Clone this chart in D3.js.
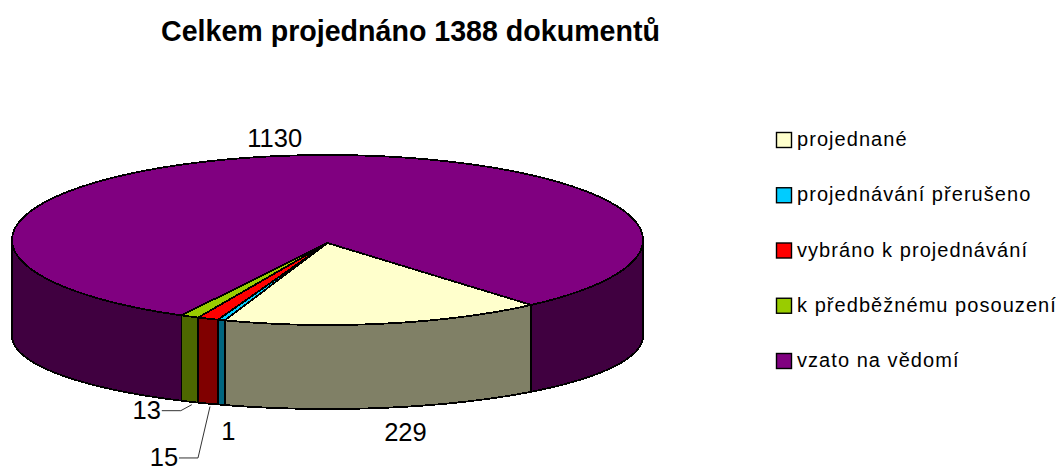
<!DOCTYPE html>
<meta charset="utf-8">
<html>
    <style>
    body { margin: 0; background: #fff; }
    svg { display: block; }
    text { font-family: "Liberation Sans", Arial, sans-serif; fill: #000; }
    .title { font-size: 28.6px; font-weight: bold; text-anchor: middle; }
    .value { font-size: 25.5px; text-anchor: middle; }
    .legend text { font-size: 20px; letter-spacing: 1.05px; }
    .face path, .wall path { stroke: #000; stroke-width: 1.8px; stroke-linejoin: round; shape-rendering: crispEdges; }
    .leader { fill: none; stroke: #333; stroke-width: 1px; }
    </style>
    <body>
        <svg width="1056" height="467"></svg>
    </body>

    <script src="https://d3js.org/d3.v7.min.js"></script>
    <script>

    var titleText = "Celkem projednáno 1388 dokumentů";
    var categories = ["projednané", "projednávání přerušeno", "vybráno k projednávání", "k předběžnému posouzení", "vzato na vědomí"];
    var values = [229, 1, 15, 13, 1130];
    var topColors = ["#ffffcc", "#00ccff", "#ff0000", "#99cc00", "#800080"];
    var sideColors = ["#808066", "#006680", "#800000", "#4d6600", "#400040"];

    var svg = d3.select("svg");

    // the pie is drawn in perspective: the lower rim is flatter than the top one
    var cx = 327.5, rx = 315.5;
    var x = d3.scaleLinear().domain([-1, 1]).range([cx - rx, cx + rx]);
    var yTop = d3.scaleLinear().domain([-1, 1]).range([155, 325]);
    var yBottom = d3.scaleLinear().domain([-1, 1]).range([263, 409]);

    var deg = Math.PI / 180;
    var minSlice = 5; // a 1 document slice would vanish under its outlines
    var pie = d3.pie().sort(null).value(function(d) { return Math.max(d, minSlice); })
        .startAngle(139.8 * deg).endAngle(499.8 * deg);
    var slices = pie(values);

    var line = d3.line();

    function rimPoint(a, y) {
        return [x(Math.sin(a)), y(-Math.cos(a))];
    }

    function rim(a0, a1, y) {
        var n = Math.max(2, Math.ceil((a1 - a0) / (0.5 * deg)));
        return d3.range(n + 1).map(function(i) {
            return rimPoint(a0 + (a1 - a0) * i / n, y);
        });
    }

    // the front of the pie is between 90 and 270 degrees
    var front = [[90 * deg, 270 * deg], [450 * deg, 630 * deg]];

    var walls = svg.append("g").attr("class", "wall");
    slices.forEach(function(s, i) {
        front.forEach(function(f) {
            var a0 = Math.max(s.startAngle, f[0]), a1 = Math.min(s.endAngle, f[1]);
            if (a1 <= a0) return;
            var pts = rim(a0, a1, yTop).concat(rim(a0, a1, yBottom).reverse());
            walls.append("path")
                .attr("d", line(pts) + "Z")
                .attr("fill", sideColors[i]);
        });
    });

    var faces = svg.append("g").attr("class", "face");
    slices.forEach(function(s, i) {
        var pts = [[x(0), yTop(0) + 3]].concat(rim(s.startAngle, s.endAngle, yTop));
        faces.append("path")
            .attr("d", line(pts) + "Z")
            .attr("fill", topColors[i]);
    });

    svg.append("text")
        .attr("class", "title")
        .attr("x", 410.5)
        .attr("y", 41)
        .text(titleText);

    // label offset from the rim point at each slice's middle angle
    var labelOffset = [[20, 33.5], [7, 35], [-44, 62.4], [-43, 17], [-18, -8.5]];

    var mids = slices.map(function(s) { return (s.startAngle + s.endAngle) / 2; });
    function anchor(i) {
        return rimPoint(mids[i], i == 4 ? yTop : yBottom);
    }

    svg.append("g").selectAll("text")
        .data(values)
        .enter().append("text")
        .attr("class", "value")
        .attr("x", function(d, i) { return anchor(i)[0] + labelOffset[i][0]; })
        .attr("y", function(d, i) { return anchor(i)[1] + labelOffset[i][1]; })
        .text(function(d) { return d; });

    // leaders of the two labels that sit away from their slices
    function leader(i) {
        var p = anchor(i);
        var lx = p[0] + labelOffset[i][0] + 15, ly = p[1] + labelOffset[i][1] - 8;
        svg.append("path")
            .attr("class", "leader")
            .attr("d", line([[lx, ly], [lx + 19, ly], [p[0] + 2, p[1] + 3]]));
    }
    leader(3);
    leader(2);

    var legendY = d3.scalePoint().domain(categories).range([140, 361]);
    var legend = svg.append("g").attr("class", "legend")
        .selectAll("g")
        .data(categories)
        .enter().append("g")
        .attr("transform", function(d) { return "translate(776," + legendY(d) + ")"; });

    legend.append("rect")
        .attr("x", 0.5)
        .attr("y", -7.5)
        .attr("width", 15)
        .attr("height", 15)
        .attr("stroke", "#000")
        .attr("stroke-width", 1.4)
        .attr("fill", function(d, i) { return topColors[i]; });

    legend.append("text")
        .attr("x", 21)
        .attr("y", 6)
        .text(function(d) { return d; });

    </script>
</html>
